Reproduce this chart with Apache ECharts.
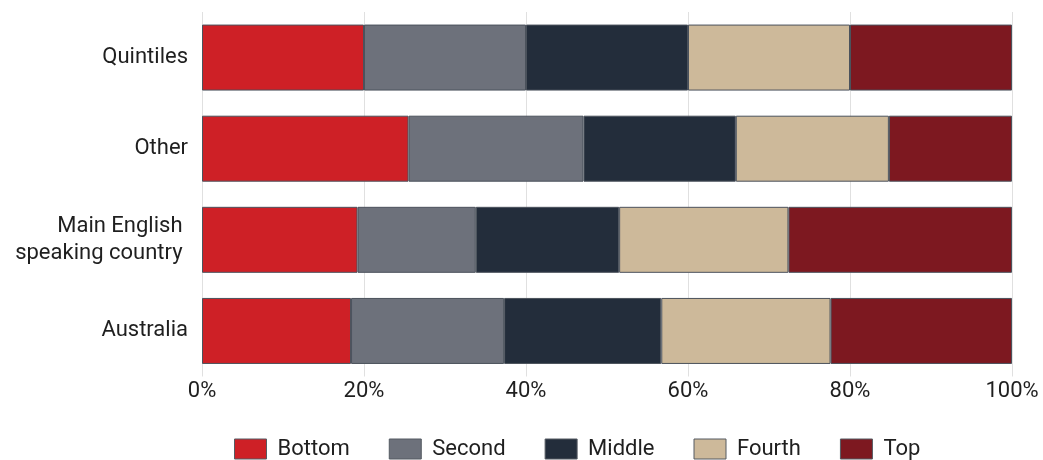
<!DOCTYPE html>
<html>
<head>
<meta charset="utf-8">
<script src="https://cdn.jsdelivr.net/npm/echarts@6/dist/echarts.min.js"></script>
<style>html,body{margin:0;padding:0;background:#fff}#c{width:1043px;height:460px}</style>
</head>
<body>
<div id="c"></div>
<script>
const categories = ["Australia", "Main English \nspeaking country ", "Other", "Quintiles"];
const seriesNames = ["Bottom", "Second", "Middle", "Fourth", "Top"];
const bottom = [18.4, 19.2, 25.5, 20];
const second = [18.9, 14.6, 21.6, 20];
const middle = [19.4, 17.7, 18.8, 20];
const fourth = [20.9, 20.9, 18.9, 20];
const top_ = [22.4, 27.6, 15.2, 20];
const colors = ["#CE2026", "#6D717B", "#232D3B", "#CDB99A", "#7D1820"];
const values = [bottom, second, middle, fourth, top_];

const font = "Roboto";
const chart = echarts.init(document.getElementById('c'));
chart.setOption({
  animation: false,
  grid: {left: 202, right: 31, top: 12, bottom: 83.5},
  legend: {
    left: 234, top: 438, padding: 0, icon: 'rect',
    itemWidth: 32, itemHeight: 20, itemGap: 39,
    textStyle: {fontFamily: font, fontSize: 22, color: '#1f1f1f', padding: [0,0,0,6]},
    data: seriesNames.map((n, i) => ({name: n, itemStyle: {color: colors[i], borderColor: '#555b63', borderWidth: 1}}))
  },
  xAxis: {
    type: 'value', min: 0, max: 100, interval: 20,
    axisLabel: {formatter: '{value}%', fontFamily: font, fontSize: 22, color: '#1f1f1f', margin: 4},
    axisLine: {show: false}, axisTick: {show: false},
    splitLine: {lineStyle: {color: '#e0e0e0', width: 1}}
  },
  yAxis: {
    type: 'category', data: categories,
    axisLine: {show: false}, axisTick: {show: false},
    axisLabel: {fontFamily: font, fontSize: 22, color: '#1f1f1f', margin: 14, lineHeight: 27, align: 'right'}
  },
  series: seriesNames.map((n, i) => ({
    name: n, type: 'bar', stack: 'total', data: values[i],
    barWidth: 66,
    itemStyle: {color: colors[i], borderColor: '#4b525c', borderWidth: 1}
  }))
});
</script>
</body>
</html>
